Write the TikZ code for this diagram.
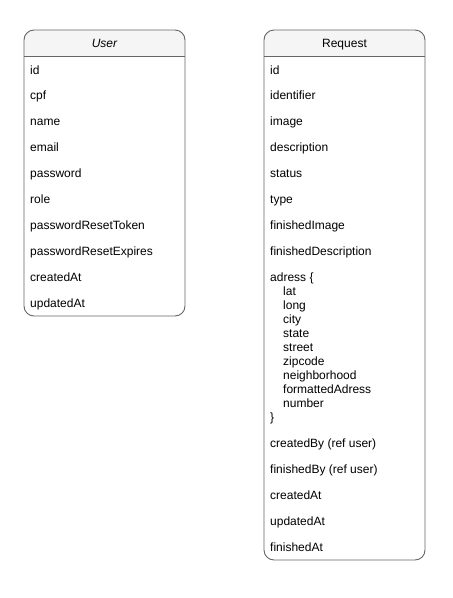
\documentclass[tikz,border=0pt]{standalone}
\usepackage{fontspec}
\setmainfont{Liberation Sans}
\definecolor{hdrfill}{HTML}{F5F5F5}
\definecolor{bordercol}{HTML}{666666}
\tikzset{
  entitybox/.style={draw=bordercol, line width=0.9pt, rounded corners=10pt},
  field/.style={anchor=base west, inner sep=0pt, font=\fontsize{12}{14}\selectfont},
  title/.style={anchor=base, inner sep=0pt, font=\fontsize{12}{14}\selectfont},
}
\begin{document}
\begin{tikzpicture}[x=1pt,y=-1pt]
\useasboundingbox (0,0) rectangle (453,598);
% User entity
\begin{scope}
  \clip[rounded corners=10pt] (24,30) rectangle (185,316);
  \fill[hdrfill] (24,30) rectangle (185,56.7);
\end{scope}
\draw[entitybox] (24,30) rectangle (185,316);
\draw[bordercol, line width=0.9pt] (24,56.7) -- (185,56.7);
\node[title, font=\fontsize{12}{14}\selectfont\itshape] (usertitle) at (104.5,47.5) {User};
\foreach \t [count=\i from 0] in {id,cpf,name,email,password,role,passwordResetToken,passwordResetExpires,createdAt,updatedAt}{
  \node[field] (u\i) at (30,{56.7+13+25.93*\i+4.3}) {\t};
}
% Request entity
\begin{scope}
  \clip[rounded corners=10pt] (264,30) rectangle (425,560);
  \fill[hdrfill] (264,30) rectangle (425,56.7);
\end{scope}
\draw[entitybox] (264,30) rectangle (425,560);
\draw[bordercol, line width=0.9pt] (264,56.7) -- (425,56.7);
\node[title] (reqtitle) at (344.5,47.5) {Request};
\foreach \t [count=\i from 0] in {id,identifier,image,description,status,type,finishedImage,finishedDescription}{
  \node[field] (r\i) at (30+240,{56.7+13+25.93*\i+4.3}) {\t};
}
\node[field] (adr0) at (270,{277.3+4.3}) {adress \{};
\foreach \t [count=\i from 1] in {lat,long,city,state,street,zipcode,neighborhood,formattedAdress,number}{
  \node[field] (adr\i) at (283,{277.3+14*\i+4.3}) {\t};
}
\node[field] (adrend) at (270,{277.3+14*10+4.3}) {\}};
\foreach \t [count=\i from 0] in {createdBy (ref user),finishedBy (ref user),createdAt,updatedAt,finishedAt}{
  \node[field] (rb\i) at (270,{430+13+26*\i+4.3}) {\t};
}
\end{tikzpicture}
\end{document}
